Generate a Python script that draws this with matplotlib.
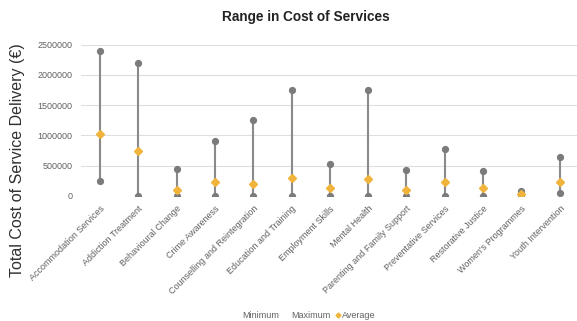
import matplotlib
matplotlib.use("Agg")
import matplotlib.pyplot as plt
from matplotlib.lines import Line2D

plt.rcParams['font.family'] = ['Liberation Sans', 'DejaVu Sans']

services = [
    "Accommodation Services", "Addiction Treatment", "Behavioural Change",
    "Crime Awareness", "Counselling and Reintegration", "Education and Training",
    "Employment Skills", "Mental Health", "Parenting and Family Support",
    "Preventative Services", "Restorative Justice", "Women's Programmes",
    "Youth Intervention",
]
minimum = [240000, 0, 0, 0, 0, 0, 0, 0, 0, 0, 0, 10000, 50000]
maximum = [2400000, 2200000, 445000, 910000, 1250000, 1755000, 530000,
           1755000, 425000, 780000, 410000, 80000, 635000]
average = [1030000, 735000, 95000, 222000, 189000, 288000, 127000,
           276000, 94000, 222000, 127000, 25000, 227000]
y_ticks = [0, 500000, 1000000, 1500000, 2000000, 2500000]

grey = "#7b7b7b"
gold = "#f0b43c"

fig = plt.figure(figsize=(5.77, 3.21), dpi=100)
ax = fig.add_axes([0.140, 0.390, 0.860, 0.471])

x = list(range(len(services)))
ax.vlines(x, minimum, maximum, color="#8a8a8a", lw=1.5, zorder=2)
ax.plot(x, minimum, "o", color=grey, ms=4.2, zorder=3, label="Minimum")
ax.plot(x, maximum, "o", color=grey, ms=4.2, zorder=3, label="Maximum")
ax.plot(x, average, "D", color=gold, ms=3.6, zorder=4, label="Average")

ax.set_xlim(-0.5, len(services) - 0.55)
ax.set_ylim(0, 2500000)
ax.set_yticks(y_ticks)
ax.set_yticklabels([str(v) for v in y_ticks], fontsize=6.5, color="#606060")
ax.yaxis.grid(True, color="#dedede", lw=0.8)
ax.set_axisbelow(True)
ax.tick_params(axis="both", length=0, pad=6)
ax.set_xticks(x)
ax.set_xticklabels(services, rotation=45, ha="right", rotation_mode="anchor",
                   fontsize=6.5, color="#606060")
for s in ax.spines.values():
    s.set_visible(False)

fig.text(0.03, 0.50, "Total Cost of Service Delivery (€)", rotation=90,
         ha="center", va="center", fontsize=11.5, color="#303030")
fig.suptitle("Range in Cost of Services", fontsize=9.8, fontweight="bold",
             x=0.53, y=0.968, color="#222222")

handles = [
    Line2D([], [], ls="none", marker="o", color="none"),
    Line2D([], [], ls="none", marker="o", color="none"),
    Line2D([], [], ls="none", marker="D", color=gold, ms=2.5),
]
fig.legend(handles, ["Minimum", "Maximum", "Average"], loc="center",
           bbox_to_anchor=(0.53, 0.018), ncol=3, frameon=False, fontsize=6.5,
           handlelength=0.6, handletextpad=0.1, columnspacing=0.6,
           labelcolor="#606060")

fig.savefig("out.png", dpi=100)
